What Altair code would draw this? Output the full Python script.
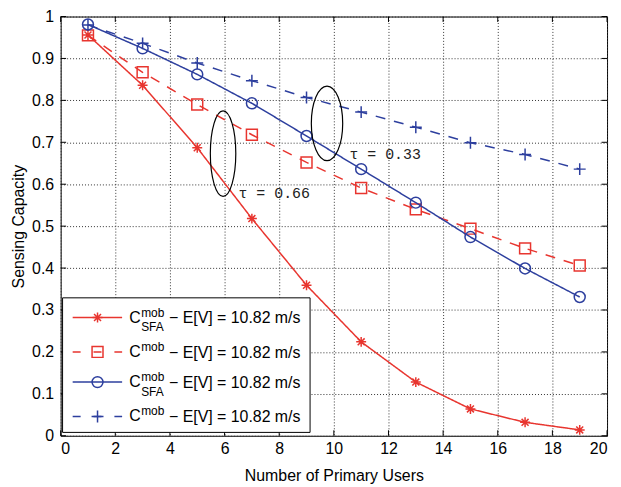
import altair as alt
import pandas as pd

# ---------------- data ----------------
x_users = [1, 3, 5, 7, 9, 11, 13, 15, 17, 19]
c_sfa_066 = [0.956, 0.836, 0.687, 0.518, 0.359, 0.224, 0.128, 0.064, 0.032, 0.014]
c_066 = [0.955, 0.867, 0.790, 0.718, 0.652, 0.591, 0.540, 0.494, 0.447, 0.406]
c_sfa_033 = [0.981, 0.924, 0.862, 0.793, 0.715, 0.636, 0.556, 0.474, 0.399, 0.331]
c_033 = [0.980, 0.936, 0.889, 0.847, 0.807, 0.772, 0.736, 0.699, 0.671, 0.636]

x_ticks = [0, 2, 4, 6, 8, 10, 12, 14, 16, 18, 20]
y_ticks = [0, 0.1, 0.2, 0.3, 0.4, 0.5, 0.6, 0.7, 0.8, 0.9, 1]

RED = "#e8352f"
BLUE = "#2d3f9e"
STAR = "M0,-1L0,1M-1,0L1,0M-0.7,-0.7L0.7,0.7M-0.7,0.7L0.7,-0.7"
PLUS = "M-1,0L1,0M0,-1L0,1"

series = [
    dict(vals=c_sfa_066, color=RED, dash=[1, 0], shape=STAR, size=100, sub="SFA"),
    dict(vals=c_066, color=RED, dash=[10, 9], shape="square", size=121, sub=""),
    dict(vals=c_sfa_033, color=BLUE, dash=[1, 0], shape="circle", size=121, sub="SFA"),
    dict(vals=c_033, color=BLUE, dash=[10, 9], shape=PLUS, size=144, sub=""),
]

# legend layout (data units)
legend_rows_y = [0.282, 0.200, 0.128, 0.046]
legend_line_x = [0.44, 2.25]
legend_marker_x = 1.35
legend_text_x = 2.51
legend_box = dict(x=0.07, x2=9.13, y=0.008, y2=0.329)
legend_tail = "− E[V] = 10.82 m/s"

# annotations
ellipses = [
    dict(x=5.945, y=0.673, size=7396, a=0.298),
    dict(x=9.75, y=0.745, size=5625, a=0.421),
]
tau_labels = pd.DataFrame({"x": [6.51, 10.57], "y": [0.580, 0.673],
                           "t": ["τ = 0.66", "τ = 0.33"]})

FONT = "Liberation Sans"
PLOT_H = 422

xs = alt.Scale(domain=[0, 20], nice=False)
ys = alt.Scale(domain=[0, 1], nice=False)

X = alt.X("x:Q", scale=xs, axis=alt.Axis(
    values=x_ticks, title="Number of Primary Users", grid=True, ticks=False,
    domain=False, labelPadding=5, titlePadding=11, labelFontSize=16,
    titleFontSize=16))
Y = alt.Y("y:Q", scale=ys, axis=alt.Axis(
    values=y_ticks, format="~g", title="Sensing Capacity", grid=True, ticks=False,
    domain=False, labelPadding=7, titlePadding=5, labelFontSize=16,
    titleFontSize=16))
Xp = alt.X("x:Q", scale=xs)
Yp = alt.Y("y:Q", scale=ys)

layers = []

# inner ticks (MATLAB style)
tick_len_y = 5.5 / PLOT_H
tick_len_x = 5.5 / 550 * 20
tdf = pd.DataFrame({"x": x_ticks})
layers.append(alt.Chart(tdf).mark_rule(color="black", strokeWidth=1).encode(
    x=X, y=alt.datum(0, scale=ys), y2=alt.datum(tick_len_y)))
layers.append(alt.Chart(tdf).mark_rule(color="black", strokeWidth=1).encode(
    x=Xp, y=alt.datum(1, scale=ys), y2=alt.datum(1 - tick_len_y)))
ydf = pd.DataFrame({"y": y_ticks})
layers.append(alt.Chart(ydf).mark_rule(color="black", strokeWidth=1).encode(
    y=Y, x=alt.datum(0, scale=xs), x2=alt.datum(tick_len_x)))
layers.append(alt.Chart(ydf).mark_rule(color="black", strokeWidth=1).encode(
    y=Yp, x=alt.datum(20, scale=xs), x2=alt.datum(20 - tick_len_x)))

# series
for s in series:
    df = pd.DataFrame({"x": x_users, "y": s["vals"]})
    layers.append(alt.Chart(df).mark_line(color=s["color"], strokeWidth=1.5,
                                          strokeDash=s["dash"]).encode(x=Xp, y=Yp))
    layers.append(alt.Chart(df).mark_point(color=s["color"], filled=False, opacity=1,
                                           strokeWidth=1.5, shape=s["shape"],
                                           size=s["size"]).encode(x=Xp, y=Yp))

# ellipses
for e in ellipses:
    a = e["a"]
    k = 0.5523
    path = (f"M0,-1C{a*k:.4f},-1 {a:.4f},-{k} {a:.4f},0C{a:.4f},{k} {a*k:.4f},1 0,1"
            f"C-{a*k:.4f},1 -{a:.4f},{k} -{a:.4f},0C-{a:.4f},-{k} -{a*k:.4f},-1 0,-1Z")
    edf = pd.DataFrame({"x": [e["x"]], "y": [e["y"]]})
    layers.append(alt.Chart(edf).mark_point(shape=path, size=e["size"], filled=False,
                                            color="black", opacity=1,
                                            strokeWidth=1.2).encode(x=Xp, y=Yp))

layers.append(alt.Chart(tau_labels).mark_text(font="Liberation Mono", fontSize=15,
                                              align="left", baseline="middle",
                                              color="#222").encode(x=Xp, y=Yp, text="t:N"))

# legend box
bdf = pd.DataFrame([legend_box])
layers.append(alt.Chart(bdf).mark_rect(fill="white", stroke="black", strokeWidth=1).encode(
    x=Xp, x2="x2:Q", y=Yp, y2="y2:Q"))

for s, ry in zip(series, legend_rows_y):
    ldf = pd.DataFrame({"x": legend_line_x, "y": [ry, ry]})
    dash = [1, 0] if s["dash"] == [1, 0] else [8, 13]
    layers.append(alt.Chart(ldf).mark_line(color=s["color"], strokeWidth=1.5,
                                           strokeDash=dash).encode(x=Xp, y=Yp))
    mdf = pd.DataFrame({"x": [legend_marker_x], "y": [ry]})
    layers.append(alt.Chart(mdf).mark_point(color=s["color"], filled=False, opacity=1,
                                            strokeWidth=1.5, shape=s["shape"],
                                            size=s["size"]).encode(x=Xp, y=Yp))

tdf2 = pd.DataFrame({"x": [legend_text_x] * 4, "y": legend_rows_y,
                     "sub": [s["sub"] for s in series]})
common = dict(font=FONT, align="left", baseline="middle", color="black")
layers.append(alt.Chart(tdf2).mark_text(fontSize=16, **common).encode(
    x=Xp, y=Yp, text=alt.value("C")))
layers.append(alt.Chart(tdf2).mark_text(fontSize=12, dx=12, dy=-5, **common).encode(
    x=Xp, y=Yp, text=alt.value("mob")))
layers.append(alt.Chart(tdf2).mark_text(fontSize=12, dx=12, dy=10, **common).encode(
    x=Xp, y=Yp, text="sub:N"))
layers.append(alt.Chart(tdf2).mark_text(fontSize=16, dx=40, dy=1, **common).encode(
    x=Xp, y=Yp, text=alt.value(legend_tail)))

chart = alt.layer(*layers).properties(
    width=550, height=PLOT_H,
    autosize=alt.AutoSizeParams(type="none"),
    padding={"left": 53, "top": 7, "right": 6, "bottom": 50},
    background="white",
).configure_view(stroke="black", strokeWidth=1).configure_axis(
    labelFont=FONT, titleFont=FONT, labelColor="black", titleColor="black",
    titleFontWeight="normal", gridColor="#333", gridDash=[1, 2], gridOpacity=1,
    gridWidth=1,
)

chart.save("out.html", embed_options={"renderer": "svg", "actions": False})
